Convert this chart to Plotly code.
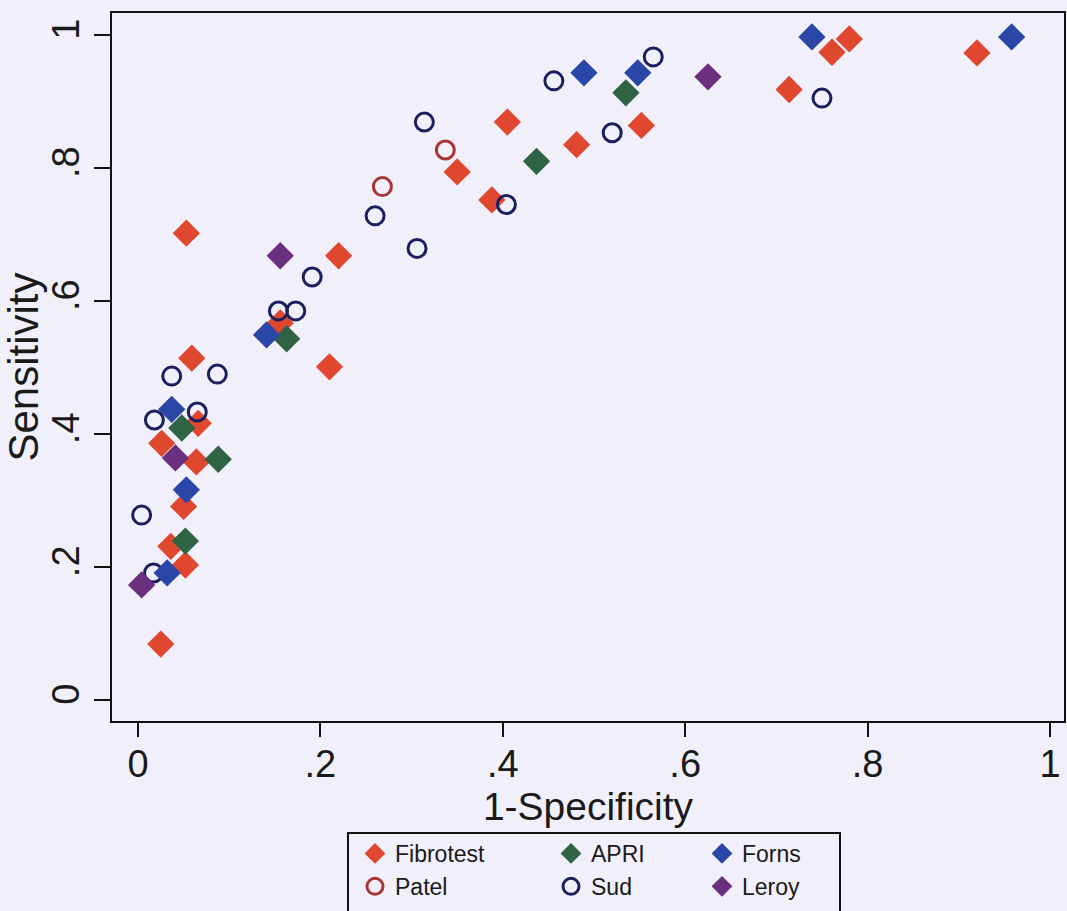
import plotly.graph_objects as go

# ---- data (1-Specificity, Sensitivity) ----
fibrotest_x = [0.780, 0.761, 0.920, 0.714, 0.405, 0.552, 0.481, 0.350, 0.388, 0.053, 0.220,
               0.156, 0.059, 0.210, 0.066, 0.026, 0.064, 0.050, 0.036, 0.052, 0.025]
fibrotest_y = [0.994, 0.974, 0.973, 0.918, 0.869, 0.864, 0.835, 0.794, 0.752, 0.702, 0.668,
               0.567, 0.514, 0.501, 0.416, 0.386, 0.358, 0.291, 0.231, 0.203, 0.084]

apri_x = [0.535, 0.437, 0.163, 0.048, 0.088, 0.052]
apri_y = [0.913, 0.810, 0.543, 0.409, 0.362, 0.239]

forns_x = [0.739, 0.958, 0.489, 0.548, 0.141, 0.037, 0.053, 0.032]
forns_y = [0.997, 0.997, 0.943, 0.943, 0.549, 0.437, 0.316, 0.191]

patel_x = [0.337, 0.268]
patel_y = [0.827, 0.772]

sud_x = [0.565, 0.456, 0.750, 0.314, 0.520, 0.404, 0.260, 0.306, 0.191, 0.154, 0.173,
         0.037, 0.087, 0.065, 0.018, 0.004, 0.017]
sud_y = [0.967, 0.931, 0.905, 0.869, 0.853, 0.745, 0.728, 0.679, 0.636, 0.585, 0.585,
         0.487, 0.490, 0.433, 0.421, 0.278, 0.191]

leroy_x = [0.625, 0.156, 0.041, 0.004]
leroy_y = [0.937, 0.668, 0.364, 0.173]

tick_vals = [0, 0.2, 0.4, 0.6, 0.8, 1]
tick_text = ["0", ".2", ".4", ".6", ".8", "1"]

BG = "#f1f0fa"
FONT = "Liberation Sans, Arial, sans-serif"
INK = "#1a1a1a"

fig = go.Figure()

def diamond(name, x, y, color, legend):
    fig.add_trace(go.Scatter(
        x=x, y=y, mode="markers", name=name, legend=legend,
        marker=dict(symbol="diamond", size=21, color=color,
                    line=dict(width=0))))

def ring(name, x, y, color, legend):
    fig.add_trace(go.Scatter(
        x=x, y=y, mode="markers", name=name, legend=legend,
        marker=dict(symbol="circle-open", size=18, color=color,
                    line=dict(width=3, color=color))))

diamond("Fibrotest", fibrotest_x, fibrotest_y, "#e0472f", "legend")
ring("Patel", patel_x, patel_y, "#a83434", "legend")
diamond("APRI", apri_x, apri_y, "#2e6444", "legend2")
ring("Sud", sud_x, sud_y, "#1c1f5e", "legend2")
diamond("Forns", forns_x, forns_y, "#2a47a8", "legend3")
diamond("Leroy", leroy_x, leroy_y, "#6b2f80", "legend3")

L, R, T, B = 112, 3, 13, 190
W, H = 1067, 911
pw, ph = W - L - R, H - T - B

def px_x(p):
    return (p - L) / pw

def px_y(p):
    return (H - B - p) / ph

leg_common = dict(bgcolor="rgba(0,0,0,0)", borderwidth=0,
                  font=dict(family=FONT, size=23, color=INK),
                  xanchor="left", yanchor="top", orientation="v",
                  traceorder="normal", tracegroupgap=0)

fig.update_layout(
    width=W, height=H,
    margin=dict(l=L, r=R, t=T, b=B, autoexpand=False),
    paper_bgcolor=BG, plot_bgcolor=BG,
    font=dict(family=FONT, color=INK),
    legend=dict(x=px_x(355), y=px_y(832), **leg_common),
    legend2=dict(x=px_x(551), y=px_y(832), **leg_common),
    legend3=dict(x=px_x(702), y=px_y(832), **leg_common),
    xaxis=dict(
        range=[-0.0285, 1.0154], tickvals=tick_vals, ticktext=tick_text,
        showgrid=False, zeroline=False, showline=True, mirror=True,
        linecolor="#111", linewidth=2, ticks="outside", ticklen=14,
        tickwidth=2, tickcolor="#111", ticklabelstandoff=-6,
        tickfont=dict(family=FONT, size=38, color=INK),
        title=dict(text="1-Specificity", standoff=0,
                   font=dict(family=FONT, size=39, color=INK)),
    ),
    yaxis=dict(
        range=[-0.0316, 1.033], tickvals=tick_vals, ticktext=tick_text,
        showgrid=False, zeroline=False, showline=True, mirror=True,
        linecolor="#111", linewidth=2, ticks="outside", ticklen=16,
        tickwidth=2, tickcolor="#111", tickangle=-90,
        tickfont=dict(family=FONT, size=38, color=INK),
        title=dict(text="Sensitivity", standoff=4,
                   font=dict(family=FONT, size=42, color=INK)),
    ),
    shapes=[dict(type="rect", xref="paper", yref="paper",
                 x0=px_x(348), x1=px_x(840), y0=px_y(833), y1=px_y(915),
                 line=dict(color="#111", width=2), fillcolor="rgba(0,0,0,0)")],
)

fig.write_html(
    "out.html",
    config={"displayModeBar": False},
    post_script="document.body.style.margin='0';document.body.style.overflow='hidden';",
)
